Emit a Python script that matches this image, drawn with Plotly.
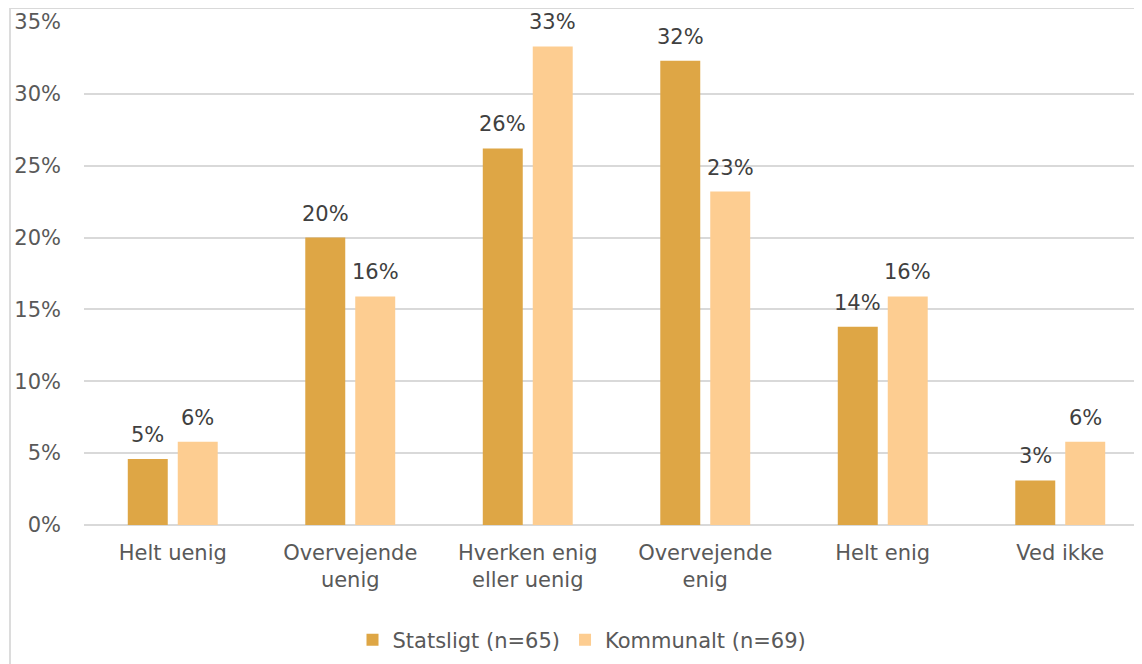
import plotly.graph_objects as go

categories = ["Helt uenig", "Overvejende<br>uenig", "Hverken enig<br>eller uenig",
              "Overvejende<br>enig", "Helt enig", "Ved ikke"]
statsligt = [4.6, 20.0, 26.2, 32.3, 13.8, 3.1]
kommunalt = [5.8, 15.9, 33.3, 23.2, 15.9, 5.8]
series_names = ["Statsligt (n=65)", "Kommunalt (n=69)"]
tick_vals = [0, 5, 10, 15, 20, 25, 30, 35]
tick_text = ["0%", "5%", "10%", "15%", "20%", "25%", "30%", "35%"]

c_stat = "#DEA645"
c_komm = "#FDCD91"
FONT = "DejaVu Sans"
FS = 21

OFF = 8  # page body margin
W, H = 1142 - OFF, 664 - OFF
L, R, T, B = 84 - OFF, 0, 22 - OFF, 139

fig = go.Figure()
fig.add_trace(go.Bar(x=categories, y=statsligt, name=series_names[0],
                     marker=dict(color=c_stat, line=dict(width=0))))
fig.add_trace(go.Bar(x=categories, y=kommunalt, name=series_names[1],
                     marker=dict(color=c_komm, line=dict(width=0))))

annotations = []
for vals, shift in ((statsligt, -25), (kommunalt, 25)):
    for c, v in zip(categories, vals):
        annotations.append(dict(x=c, y=v, xref="x", yref="y", text=f"{round(v)}%",
                                showarrow=False, xshift=shift, yanchor="bottom", yshift=10,
                                font=dict(family=FONT, size=FS, color="#404040")))

pw = W - L - R
ph = H - T - B
bottom_px = H - B  # in figure coords
fig.update_layout(
    width=W, height=H,
    margin=dict(l=L, r=R, t=T, b=B, pad=0),
    paper_bgcolor="white", plot_bgcolor="white",
    barmode="group", bargap=0.437, bargroupgap=0.2,
    font=dict(family=FONT, size=FS, color="#595959"),
    annotations=annotations,
    showlegend=True,
    legend=dict(orientation="h", x=(582 - OFF - L) / pw, xanchor="center",
                y=-(640 - OFF - bottom_px) / ph, yanchor="middle",
                font=dict(family=FONT, size=FS, color="#595959"),
                itemwidth=30, traceorder="normal"),
    shapes=[dict(type="rect", xref="paper", yref="paper",
                 x0=(10 - OFF - L) / pw, x1=1.02, y0=-0.35, y1=1 + (T - (8 - OFF)) / ph,
                 line=dict(color="#D9D9D9", width=1.8), fillcolor="rgba(0,0,0,0)", layer="below")],
)
fig.update_xaxes(range=[-0.5, (pw / 177.5) - 0.5], showgrid=False, showline=False, ticks="",
                 tickfont=dict(family=FONT, size=FS, color="#595959"), ticklabelstandoff=13,
                 fixedrange=True)
fig.update_yaxes(range=[0, 35], tickvals=tick_vals, ticktext=tick_text, showgrid=True,
                 gridcolor="#D9D9D9", gridwidth=1.7, zeroline=True, zerolinecolor="#D9D9D9",
                 zerolinewidth=1.7, showline=False, ticks="",
                 tickfont=dict(family=FONT, size=FS, color="#595959"), ticklabelstandoff=22,
                 fixedrange=True)

fig.write_html("out.html", config={"displayModeBar": False})
